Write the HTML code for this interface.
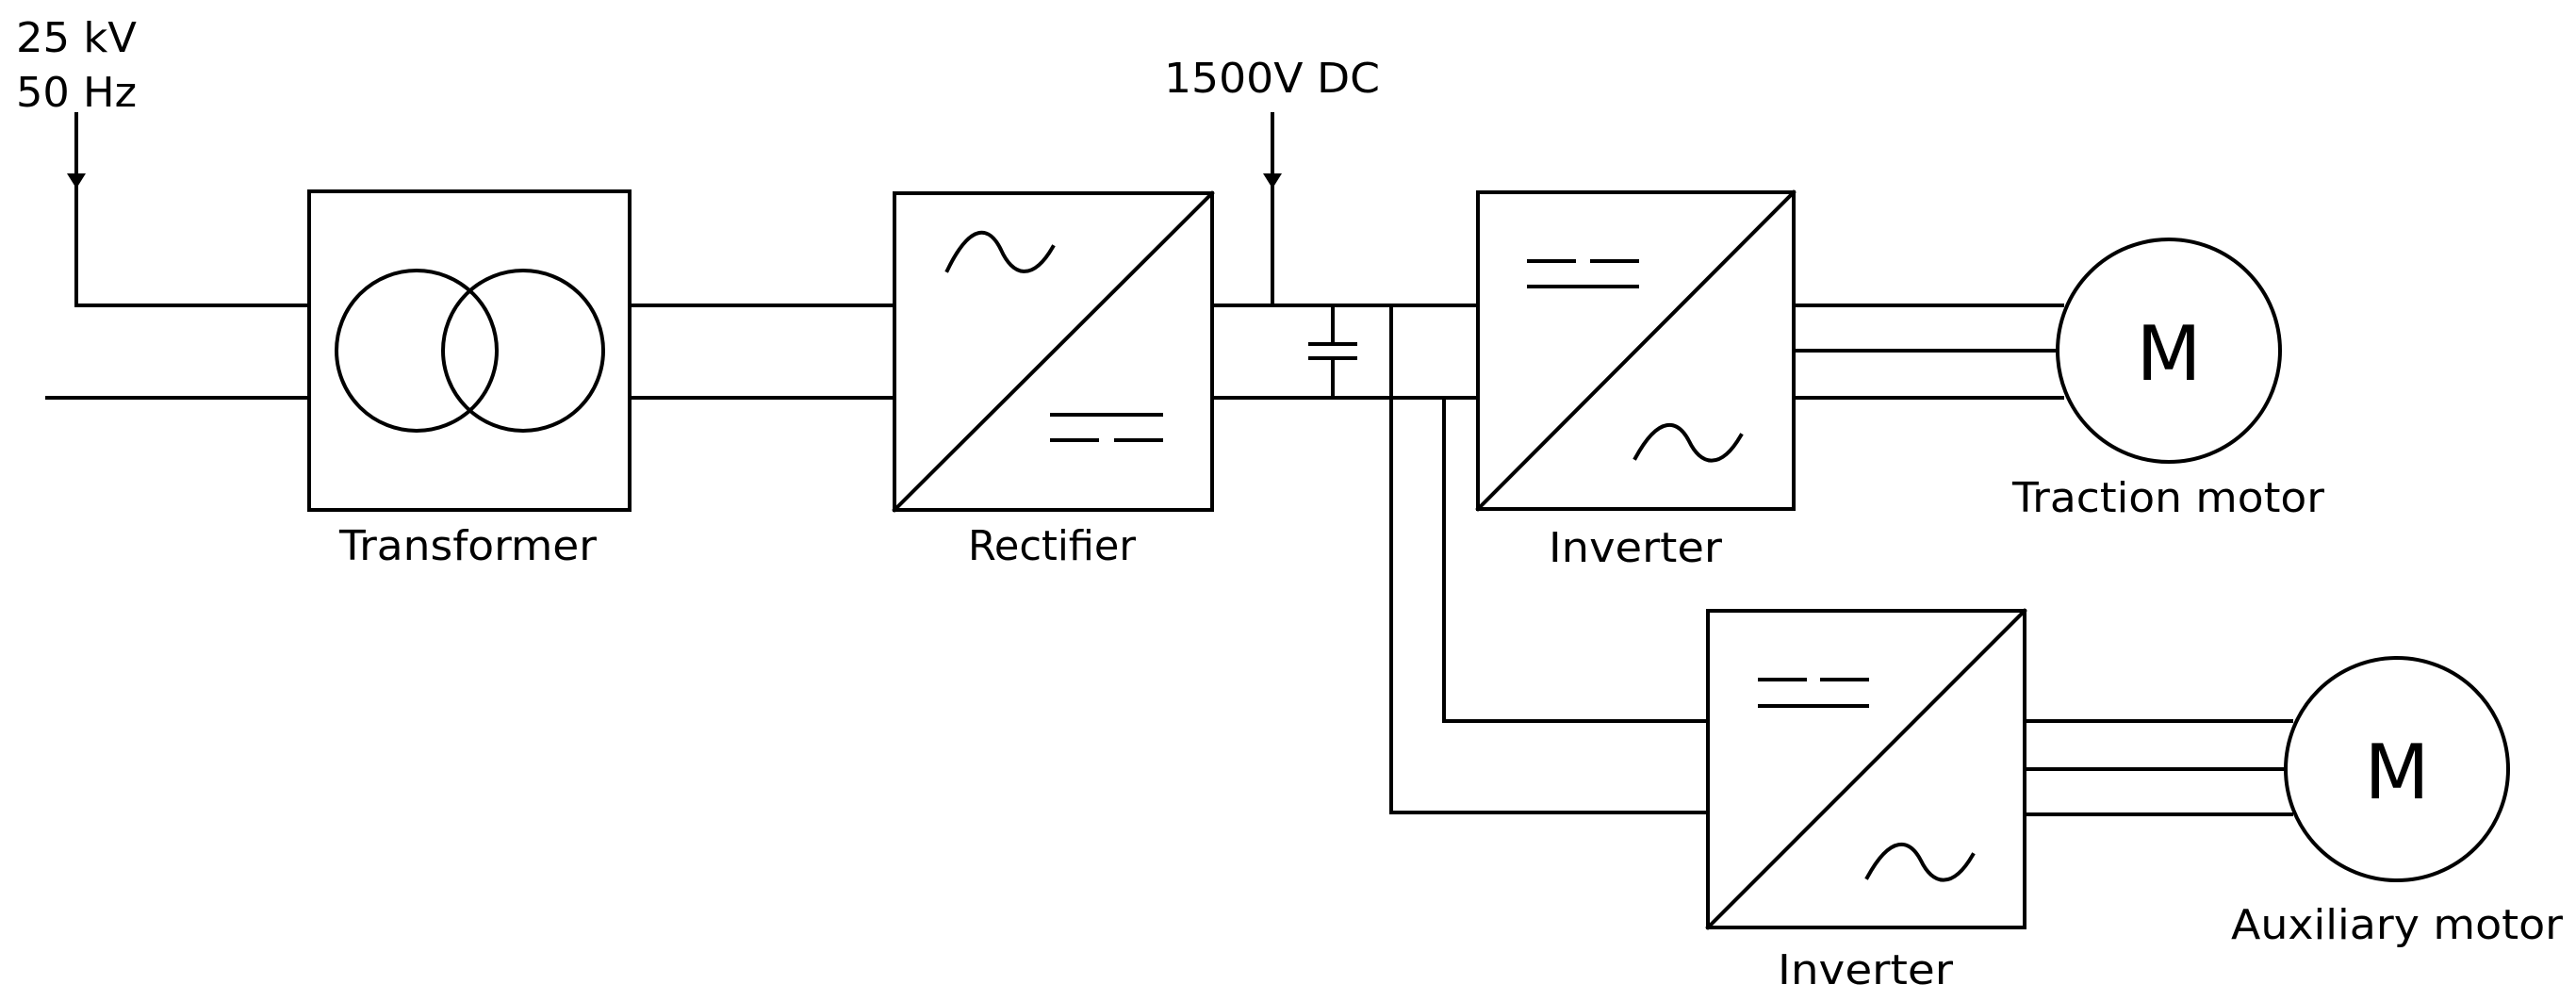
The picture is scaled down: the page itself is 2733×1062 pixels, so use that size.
<!DOCTYPE html>
<html><head><meta charset="utf-8"><style>
html,body{margin:0;padding:0;background:#fff;}
svg{display:block;}
text{font-family:"DejaVu Sans","Liberation Sans",sans-serif;fill:#000;}
</style></head><body>
<svg width="2733" height="1062" viewBox="0 0 2733 1062" xmlns="http://www.w3.org/2000/svg">
<g stroke="#000" stroke-width="4" fill="none" stroke-linecap="square">
<!-- input -->
<line x1="81" y1="121" x2="81" y2="324"/>
<line x1="81" y1="324" x2="328" y2="324"/>
<line x1="50" y1="422" x2="328" y2="422"/>
<!-- transformer -->
<rect x="328" y="203" width="340" height="338"/>
<circle cx="442" cy="372" r="85"/>
<circle cx="555" cy="372" r="85"/>
<line x1="668" y1="324" x2="949" y2="324"/>
<line x1="668" y1="422" x2="949" y2="422"/>
<!-- rectifier -->
<rect x="949" y="205" width="337" height="336"/>
<line x1="949" y1="541" x2="1286" y2="205"/>
<path d="M1005 287 C1030 235 1050 240 1062 265 C1074 292 1095 300 1117 262"/>
<line x1="1116" y1="440" x2="1232" y2="440"/>
<line x1="1116" y1="467" x2="1164" y2="467"/>
<line x1="1184" y1="467" x2="1232" y2="467"/>
<!-- DC bus -->
<line x1="1286" y1="324" x2="1568" y2="324"/>
<line x1="1286" y1="422" x2="1568" y2="422"/>
<line x1="1350" y1="121" x2="1350" y2="324"/>
<line x1="1414" y1="324" x2="1414" y2="365"/>
<line x1="1414" y1="380" x2="1414" y2="422"/>
<line x1="1390" y1="365" x2="1438" y2="365"/>
<line x1="1390" y1="380" x2="1438" y2="380"/>
<polyline points="1476,324 1476,862 1812,862"/>
<polyline points="1532,422 1532,765 1812,765"/>
<!-- inverter 1 -->
<rect x="1568" y="204" width="335" height="336"/>
<line x1="1568" y1="540" x2="1903" y2="204"/>
<line x1="1622" y1="277" x2="1670" y2="277"/>
<line x1="1689" y1="277" x2="1737" y2="277"/>
<line x1="1622" y1="304" x2="1737" y2="304"/>
<path d="M1735 486 C1760 440 1780 445 1792 468 C1804 493 1825 500 1847 462"/>
<line x1="1903" y1="324" x2="2188" y2="324"/>
<line x1="1903" y1="372" x2="2183" y2="372"/>
<line x1="1903" y1="422" x2="2188" y2="422"/>
<circle cx="2301" cy="372" r="118"/>
<!-- inverter 2 -->
<rect x="1812" y="648" width="336" height="336"/>
<line x1="1812" y1="984" x2="2148" y2="648"/>
<line x1="1867" y1="721" x2="1915" y2="721"/>
<line x1="1933" y1="721" x2="1981" y2="721"/>
<line x1="1867" y1="749" x2="1981" y2="749"/>
<path d="M1981 931 C2006 885 2026 890 2038 913 C2050 938 2071 945 2093 907"/>
<line x1="2148" y1="765" x2="2431" y2="765"/>
<line x1="2148" y1="816" x2="2425" y2="816"/>
<line x1="2148" y1="864" x2="2431" y2="864"/>
<circle cx="2543" cy="816" r="118"/>
</g>
<g fill="#000">
<polygon points="71,184 91,184 81,200"/>
<polygon points="1340,184 1360,184 1350,200"/>
</g>
<g font-size="44">
<text x="17" y="55" textLength="128" lengthAdjust="spacingAndGlyphs">25 kV</text>
<text x="17" y="113" textLength="128" lengthAdjust="spacingAndGlyphs">50 Hz</text>
<text x="1235" y="98" textLength="229" lengthAdjust="spacingAndGlyphs">1500V DC</text>
<text x="360" y="594" textLength="273" lengthAdjust="spacingAndGlyphs">Transformer</text>
<text x="1027" y="594" textLength="178" lengthAdjust="spacingAndGlyphs">Rectifier</text>
<text x="1643" y="596" textLength="184" lengthAdjust="spacingAndGlyphs">Inverter</text>
<text x="2135" y="543" textLength="331" lengthAdjust="spacingAndGlyphs">Traction motor</text>
<text x="1886" y="1044" textLength="186" lengthAdjust="spacingAndGlyphs">Inverter</text>
<text x="2367" y="996" textLength="352" lengthAdjust="spacingAndGlyphs">Auxiliary motor</text>
</g>
<text x="2301" y="403" font-size="80" text-anchor="middle">M</text>
<text x="2543" y="847" font-size="80" text-anchor="middle">M</text>
</svg>
</body></html>
